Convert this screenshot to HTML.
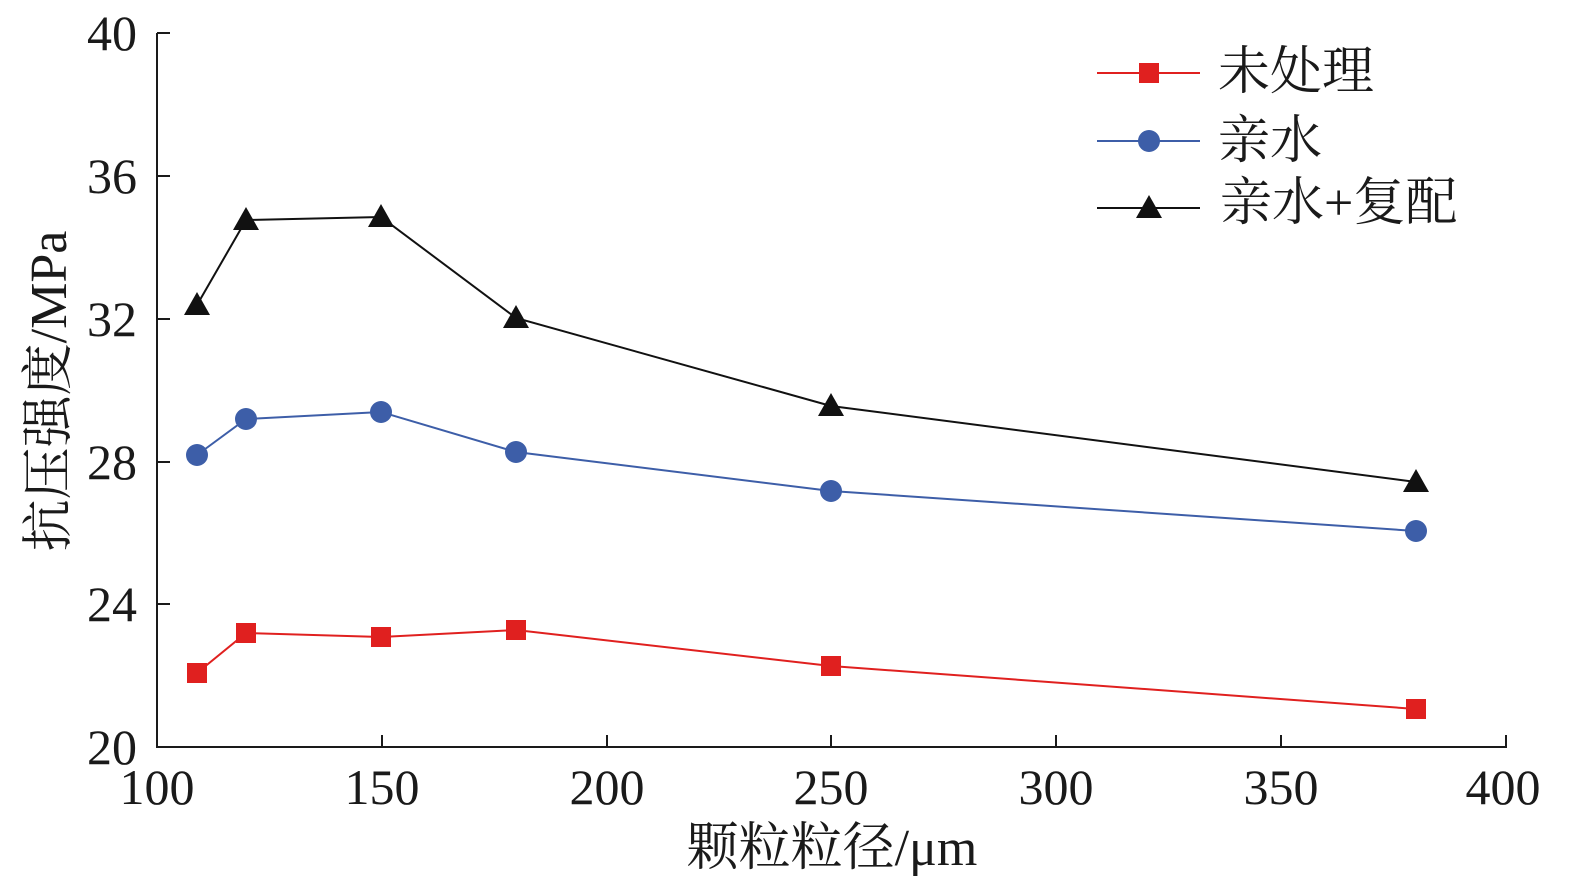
<!DOCTYPE html>
<html><head><meta charset="utf-8"><style>
html,body{margin:0;padding:0;background:#fff;}
svg{display:block;}
text{font-family:"Liberation Serif","Noto Serif CJK SC","Noto Serif CJK JP",serif;fill:#1a1a1a;}
</style></head><body>
<svg width="1575" height="886" viewBox="0 0 1575 886">
<g stroke="#1a1a1a" stroke-width="2" fill="none">
<line x1="157" y1="33" x2="157" y2="748"/>
<line x1="156" y1="747" x2="1507" y2="747"/>
<line x1="157" y1="33" x2="170" y2="33"/>
<line x1="157" y1="176" x2="170" y2="176"/>
<line x1="157" y1="319" x2="170" y2="319"/>
<line x1="157" y1="462" x2="170" y2="462"/>
<line x1="157" y1="604" x2="170" y2="604"/>
<line x1="382" y1="747" x2="382" y2="735"/>
<line x1="607" y1="747" x2="607" y2="735"/>
<line x1="831" y1="747" x2="831" y2="735"/>
<line x1="1056" y1="747" x2="1056" y2="735"/>
<line x1="1281" y1="747" x2="1281" y2="735"/>
<line x1="1506" y1="747" x2="1506" y2="735"/>
</g>
<g font-size="50" text-anchor="end">
<text x="137" y="50">40</text>
<text x="137" y="193">36</text>
<text x="137" y="336">32</text>
<text x="137" y="479">28</text>
<text x="137" y="621">24</text>
<text x="137" y="764">20</text>
</g>
<g font-size="50" text-anchor="middle">
<text x="157" y="804">100</text>
<text x="382" y="804">150</text>
<text x="607" y="804">200</text>
<text x="831" y="804">250</text>
<text x="1056" y="804">300</text>
<text x="1281" y="804">350</text>
<text x="1503" y="804">400</text>
<text x="832" y="865" font-size="52">颗粒粒径/μm</text>
<text transform="translate(66,391) rotate(-90)" font-size="52">抗压强度/MPa</text>
</g>
<polyline fill="none" stroke="#e0201f" stroke-width="2" points="197,673 246,633 381,637 516,630 831,666 1416,709"/>
<polyline fill="none" stroke="#3d5ea8" stroke-width="2" points="197,455 246,419 381,412 516,452 831,491 1416,531"/>
<polyline fill="none" stroke="#111" stroke-width="2" points="197,305 246,220 381,217 516,318 831,406 1416,482"/>
<g fill="#e0201f">
<rect x="187" y="663" width="20" height="20"/><rect x="236" y="623" width="20" height="20"/>
<rect x="371" y="627" width="20" height="20"/><rect x="506" y="620" width="20" height="20"/>
<rect x="821" y="656" width="20" height="20"/><rect x="1406" y="699" width="20" height="20"/>
</g>
<g fill="#3d5ea8">
<circle cx="197" cy="455" r="11"/><circle cx="246" cy="419" r="11"/><circle cx="381" cy="412" r="11"/>
<circle cx="516" cy="452" r="11"/><circle cx="831" cy="491" r="11"/><circle cx="1416" cy="531" r="11"/>
</g>
<g fill="#111">
<polygon points="197,292 184,315 210,315"/><polygon points="246,207 233,230 259,230"/>
<polygon points="381,204 368,227 394,227"/><polygon points="516,305 503,328 529,328"/>
<polygon points="831,393 818,416 844,416"/><polygon points="1416,469 1403,492 1429,492"/>
</g>
<line x1="1097" y1="73" x2="1200" y2="73" stroke="#e0201f" stroke-width="2"/>
<rect x="1139" y="63" width="20" height="20" fill="#e0201f"/>
<line x1="1097" y1="141" x2="1200" y2="141" stroke="#3d5ea8" stroke-width="2"/>
<circle cx="1149" cy="141" r="11" fill="#3d5ea8"/>
<line x1="1097" y1="208" x2="1200" y2="208" stroke="#111" stroke-width="2"/>
<polygon points="1149,195 1136,218 1162,218" fill="#111"/>
<g font-size="52">
<text x="1218" y="89">未处理</text>
<text x="1218" y="158">亲水</text>
<text x="1220" y="220">亲水+复配</text>
</g>
</svg>
</body></html>
